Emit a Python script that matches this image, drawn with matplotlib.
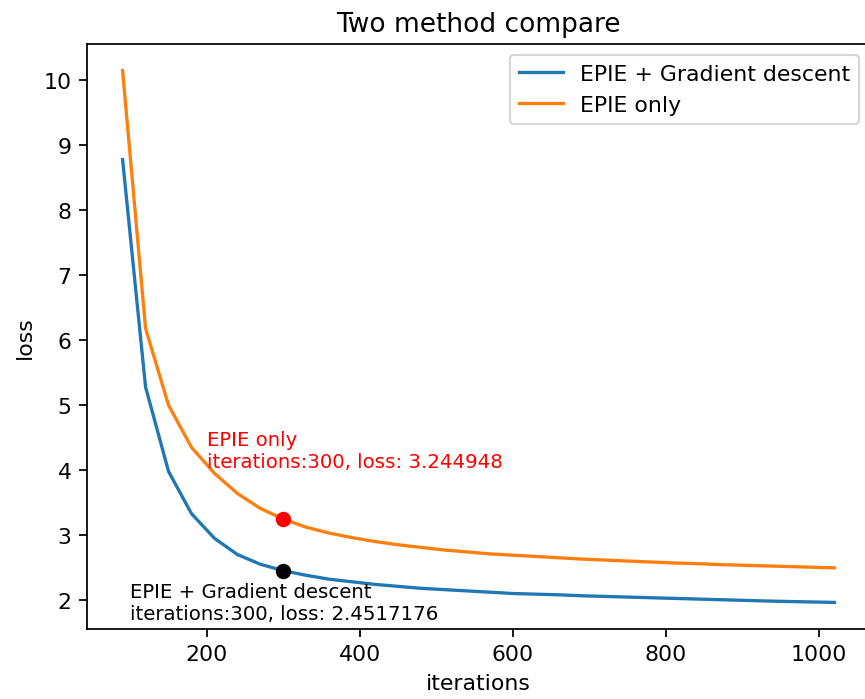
import matplotlib
matplotlib.use("Agg")
import matplotlib.pyplot as plt
from matplotlib.ticker import MultipleLocator

iterations = list(range(90, 1021, 30))
loss_gd = [8.78, 5.28, 3.98, 3.33, 2.95, 2.70, 2.55, 2.4517176,
           2.38, 2.32, 2.28, 2.24, 2.21, 2.18, 2.16, 2.14, 2.12, 2.10,
           2.09, 2.08, 2.065, 2.055, 2.045, 2.035, 2.025, 2.015, 2.005,
           1.995, 1.985, 1.977, 1.97, 1.963]
loss_epie = [10.15, 6.18, 5.0, 4.35, 3.95, 3.64, 3.41, 3.244948,
             3.12, 3.03, 2.96, 2.90, 2.85, 2.81, 2.77, 2.74, 2.71, 2.69,
             2.67, 2.65, 2.63, 2.615, 2.60, 2.585, 2.57, 2.56, 2.545,
             2.535, 2.525, 2.515, 2.505, 2.495]
mark_x = 300
mark_gd = 2.4517176
mark_epie = 3.244948

dpi = 158
fig = plt.figure(figsize=(865 / dpi, 700 / dpi), dpi=dpi)
ax = fig.add_axes([87 / 865, 70 / 700, 783 / 865, 585 / 700])

ax.plot(iterations, loss_gd, label="EPIE + Gradient descent")
ax.plot(iterations, loss_epie, label="EPIE only")
ax.scatter([mark_x], [mark_epie], color="red", zorder=3)
ax.scatter([mark_x], [mark_gd], color="black", zorder=3)
ax.text(mark_x - 100, 4.05, "EPIE only\niterations:%d, loss: %s" % (mark_x, "3.244948"),
        color="red", fontsize=9)
ax.text(mark_x - 200, 1.70, "EPIE + Gradient descent\niterations:%d, loss: %s" % (mark_x, "2.4517176"),
        color="black", fontsize=9)

ax.yaxis.set_major_locator(MultipleLocator(1))
ax.set_title("Two method compare")
ax.set_xlabel("iterations")
ax.set_ylabel("loss")
ax.legend(loc="upper right")

fig.savefig("out.png", dpi=dpi)
